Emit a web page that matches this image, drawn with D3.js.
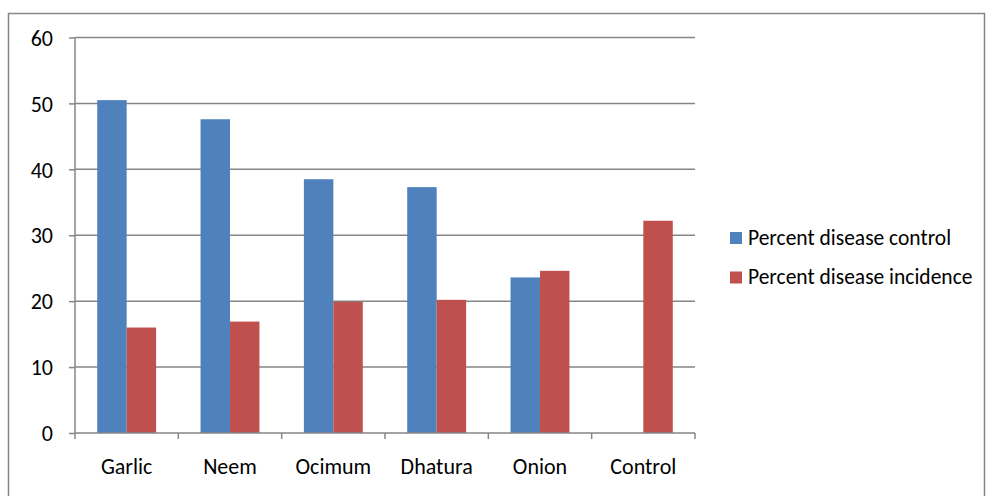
<!DOCTYPE html>
<html><head><meta charset="utf-8">
<script src="https://cdn.jsdelivr.net/npm/d3@7"></script>
<style>body{margin:0;background:#fff}svg{display:block}text{font-family:Carlito,Calibri,"Open Sans",sans-serif;fill:#000}</style>
</head><body>
<script>
const categories = ["Garlic","Neem","Ocimum","Dhatura","Onion","Control"];
const seriesNames = ["Percent disease control","Percent disease incidence"];
const diseaseControl = [50.5,47.6,38.5,37.3,23.6,0];
const diseaseIncidence = [16.0,16.9,19.9,20.2,24.6,32.2];
const yTicks = [0,10,20,30,40,50,60];
const colors = ["#4F81BD","#C0504D"];

const W=986,H=496;
const svg=d3.select("body").append("svg").attr("width",W).attr("height",H);
svg.append("rect").attr("x",8.5).attr("y",13.5).attr("width",976).attr("height",490).attr("fill","none").attr("stroke","#868686").attr("stroke-width",1.5);

const L=75,R=695,T=37.5,B=433;
const x=d3.scaleBand().domain(categories).range([L,R]).paddingInner(0.43).paddingOuter(0.215);
const x1=d3.scaleBand().domain([0,1]).range([0,x.bandwidth()]);
const y=d3.scaleLinear().domain([0,60]).range([B,T]);

const g=svg.append("g");
g.selectAll("line.grid").data(yTicks.filter(d=>d>0)).join("line")
 .attr("x1",L).attr("x2",R).attr("y1",d=>y(d)).attr("y2",d=>y(d))
 .attr("stroke","#868686").attr("stroke-width",1.5);

const data=[diseaseControl,diseaseIncidence];
categories.forEach((c,i)=>{
  data.forEach((s,j)=>{
    if(s[i]>0) g.append("rect").attr("x",x(c)+x1(j)).attr("y",y(s[i])).attr("width",x1.bandwidth()).attr("height",B-y(s[i])).attr("fill",colors[j]);
  });
});

const ya=svg.append("g").attr("transform",`translate(${L},0)`)
 .call(d3.axisLeft(y).tickValues(yTicks).tickSize(6).tickPadding(10).tickFormat(d3.format("d")));
ya.select(".domain").attr("stroke","#868686").attr("stroke-width",1.5).attr("d",`M0,${T}V${B}`);
ya.selectAll(".tick line").attr("stroke","#868686").attr("stroke-width",1.5);
ya.selectAll("text").style("font-size","22px").attr("dy","0.35em").attr("x",-22);

const xa=svg.append("g").attr("transform",`translate(0,${B})`);
xa.append("line").attr("x1",L).attr("x2",R).attr("stroke","#868686").attr("stroke-width",1.5);
const bounds=categories.map((c,i)=>L+(R-L)*i/categories.length).concat([R]);
xa.selectAll("line.t").data(bounds).join("line").attr("x1",d=>d).attr("x2",d=>d).attr("y1",0).attr("y2",6).attr("stroke","#868686").attr("stroke-width",1.5);
xa.selectAll("text").data(categories).join("text").attr("x",d=>x(d)+x.bandwidth()/2).attr("y",41).attr("text-anchor","middle").style("font-size","22px").text(d=>d);

const lg=svg.append("g");
seriesNames.forEach((n,j)=>{
  lg.append("rect").attr("x",730).attr("y",232+j*39.5).attr("width",12).attr("height",12).attr("fill",colors[j]);
  lg.append("text").attr("x",748).attr("y",245+j*38.5).style("font-size","21.5px").text(n);
});
</script>
</body></html>
